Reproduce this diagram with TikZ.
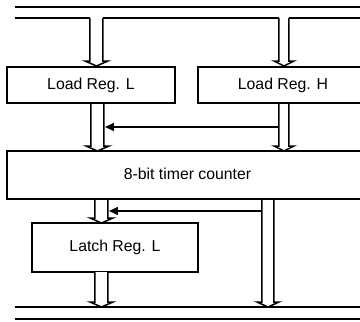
\documentclass[tikz,border=0pt]{standalone}
\usepackage{fontspec}
\setmainfont{Liberation Sans}
\usetikzlibrary{arrows.meta}
\tikzset{
  regbox/.style={draw,line width=2.5pt,fill=white,inner sep=0pt,font=\fontsize{15.8}{18}\selectfont},
  busline/.style={line width=1.5pt},
  ctrl/.style={line width=1.5pt,-{Triangle[length=9pt,width=8pt]}},
}
\newcommand\hollowbus[4]{% xl xr ytop ytip
  \pgfmathsetmacro\xm{(#1+#2)/2}
  \draw[busline,fill=white,line join=miter] (#1,#3) -- (#1,#4-5) -- (#1-5,#4-5) -- (\xm,#4) -- (#2+5,#4-5) -- (#2,#4-5) -- (#2,#3);
}
\begin{document}
\begin{tikzpicture}[x=1pt,y=-1pt]
\useasboundingbox (0,0) rectangle (360,322);
\clip (0,0) rectangle (360,322);
% boxes
\node[regbox,minimum width=168pt,minimum height=36pt] (lrl) at (91,85) {Load Reg. L};
\node[regbox,minimum width=170pt,minimum height=36pt] (lrh) at (283,85) {Load Reg. H};
\node[regbox,minimum width=361pt,minimum height=48pt] (tc) at (187.5,175) {};
\node[font=\fontsize{15.8}{18}\selectfont] (tct) at (187.5,174) {8-bit timer counter};
\node[regbox,minimum width=166pt,minimum height=49pt] (lat) at (115,247.5) {Latch Reg. L};
% top bus
\draw[busline] (15,7) -- (365,7);
\draw[busline] (15,18) -- (90,18);
\draw[busline] (103,18) -- (279,18);
\draw[busline] (289,18) -- (365,18);
\hollowbus{90}{103}{18}{66}
\hollowbus{279}{289}{18}{66}
% load regs to timer
\hollowbus{91}{104}{104}{151}
\hollowbus{279}{289}{104}{151}
\coordinate (c1s) at (279,127);
\coordinate (c1e) at (105,127);
\draw[ctrl] (c1s) -- (c1e);
% timer to latch and bus
\hollowbus{95}{108}{200}{223}
\hollowbus{262}{274}{200}{307}
\coordinate (c2s) at (262,211);
\coordinate (c2e) at (109,211);
\draw[ctrl] (c2s) -- (c2e);
% latch to bus
\hollowbus{95}{108}{272}{307}
% bottom bus
\draw[busline] (15,307) -- (365,307);
\draw[busline] (15,319) -- (365,319);
\end{tikzpicture}
\end{document}
